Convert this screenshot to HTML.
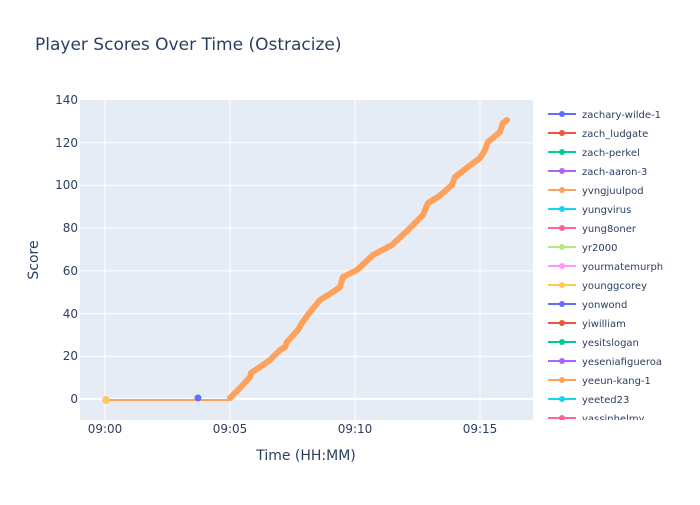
<!DOCTYPE html><html><head><meta charset="utf-8"><style>body{margin:0;background:#fff}svg{font-family:"DejaVu Sans","Liberation Sans",sans-serif}</style></head><body>
<svg width="700" height="500" viewBox="0 0 700 500">
<rect width="700" height="500" fill="#fff"/>
<text x="35" y="50" font-size="17" fill="#2a3f5f">Player Scores Over Time (Ostracize)</text>
<rect x="80" y="100" width="453" height="320" fill="#e5ecf6"/>
<g stroke="#fff" stroke-width="1">
<line x1="80" x2="533" y1="399" y2="399" stroke-width="2"/>
<line x1="80" x2="533" y1="356.3" y2="356.3"/><line x1="80" x2="533" y1="313.6" y2="313.6"/>
<line x1="80" x2="533" y1="270.9" y2="270.9"/><line x1="80" x2="533" y1="228.1" y2="228.1"/>
<line x1="80" x2="533" y1="185.4" y2="185.4"/><line x1="80" x2="533" y1="142.7" y2="142.7"/>
<line x1="105" x2="105" y1="100" y2="420"/><line x1="230" x2="230" y1="100" y2="420"/>
<line x1="355" x2="355" y1="100" y2="420"/><line x1="480" x2="480" y1="100" y2="420"/>
</g>
<g font-size="12" fill="#2a3f5f" text-anchor="end">
<text x="78" y="403">0</text><text x="78" y="360">20</text><text x="78" y="318">40</text><text x="78" y="275">60</text><text x="78" y="232">80</text><text x="78" y="189">100</text><text x="78" y="147">120</text><text x="78" y="104">140</text>
</g>
<g font-size="12" fill="#2a3f5f" text-anchor="middle">
<text x="105" y="433">09:00</text><text x="230" y="433">09:05</text><text x="355" y="433">09:10</text><text x="480" y="433">09:15</text>
</g>
<text x="306" y="460" font-size="14" fill="#2a3f5f" text-anchor="middle">Time (HH:MM)</text>
<text x="38" y="260" font-size="14" fill="#2a3f5f" text-anchor="middle" transform="rotate(-90 38 260)">Score</text>
<line x1="105" y1="400" x2="230" y2="400" stroke="#ffa15a" stroke-width="2"/>
<polyline fill="none" stroke="#ffa15a" stroke-width="6" stroke-linejoin="round" stroke-linecap="round" points="230,398 240,388 250,377 251,373 263,365 270,360 280,350 285,347 287,342 298,330 302,323 310,312 320,300 333,292 340,287 343,277 357,270 373,255 392,245 410,228 423,215 428,203 438,197 452,185 455,177 468,167 480,158 485,150 488,142 500,132 503,123 507,120"/>
<circle cx="106" cy="400" r="3.5" fill="#fecb52" stroke="#ffa15a" stroke-width="0.5"/>
<circle cx="198" cy="398" r="3.5" fill="#636efa"/>
<svg x="540" y="100" width="160" height="320">
<g font-size="10" fill="#2a3f5f">
<g transform="translate(0,14)"><line x1="8" x2="36" stroke="#636efa" stroke-width="2"/><circle cx="22" r="3" fill="#636efa"/><text x="42" y="4">zachary-wilde-1</text></g>
<g transform="translate(0,33)"><line x1="8" x2="36" stroke="#ef553b" stroke-width="2"/><circle cx="22" r="3" fill="#ef553b"/><text x="42" y="4">zach_ludgate</text></g>
<g transform="translate(0,52)"><line x1="8" x2="36" stroke="#00cc96" stroke-width="2"/><circle cx="22" r="3" fill="#00cc96"/><text x="42" y="4">zach-perkel</text></g>
<g transform="translate(0,71)"><line x1="8" x2="36" stroke="#ab63fa" stroke-width="2"/><circle cx="22" r="3" fill="#ab63fa"/><text x="42" y="4">zach-aaron-3</text></g>
<g transform="translate(0,90)"><line x1="8" x2="36" stroke="#ffa15a" stroke-width="2"/><circle cx="22" r="3" fill="#ffa15a"/><text x="42" y="4">yvngjuulpod</text></g>
<g transform="translate(0,109)"><line x1="8" x2="36" stroke="#19d3f3" stroke-width="2"/><circle cx="22" r="3" fill="#19d3f3"/><text x="42" y="4">yungvirus</text></g>
<g transform="translate(0,128)"><line x1="8" x2="36" stroke="#ff6692" stroke-width="2"/><circle cx="22" r="3" fill="#ff6692"/><text x="42" y="4">yung8oner</text></g>
<g transform="translate(0,147)"><line x1="8" x2="36" stroke="#b6e880" stroke-width="2"/><circle cx="22" r="3" fill="#b6e880"/><text x="42" y="4">yr2000</text></g>
<g transform="translate(0,166)"><line x1="8" x2="36" stroke="#ff97ff" stroke-width="2"/><circle cx="22" r="3" fill="#ff97ff"/><text x="42" y="4">yourmatemurph</text></g>
<g transform="translate(0,185)"><line x1="8" x2="36" stroke="#fecb52" stroke-width="2"/><circle cx="22" r="3" fill="#fecb52"/><text x="42" y="4">younggcorey</text></g>
<g transform="translate(0,204)"><line x1="8" x2="36" stroke="#636efa" stroke-width="2"/><circle cx="22" r="3" fill="#636efa"/><text x="42" y="4">yonwond</text></g>
<g transform="translate(0,223)"><line x1="8" x2="36" stroke="#ef553b" stroke-width="2"/><circle cx="22" r="3" fill="#ef553b"/><text x="42" y="4">yiwilliam</text></g>
<g transform="translate(0,242)"><line x1="8" x2="36" stroke="#00cc96" stroke-width="2"/><circle cx="22" r="3" fill="#00cc96"/><text x="42" y="4">yesitslogan</text></g>
<g transform="translate(0,261)"><line x1="8" x2="36" stroke="#ab63fa" stroke-width="2"/><circle cx="22" r="3" fill="#ab63fa"/><text x="42" y="4">yeseniafigueroa</text></g>
<g transform="translate(0,280)"><line x1="8" x2="36" stroke="#ffa15a" stroke-width="2"/><circle cx="22" r="3" fill="#ffa15a"/><text x="42" y="4">yeeun-kang-1</text></g>
<g transform="translate(0,299)"><line x1="8" x2="36" stroke="#19d3f3" stroke-width="2"/><circle cx="22" r="3" fill="#19d3f3"/><text x="42" y="4">yeeted23</text></g>
<g transform="translate(0,318)"><line x1="8" x2="36" stroke="#ff6692" stroke-width="2"/><circle cx="22" r="3" fill="#ff6692"/><text x="42" y="4">yassinhelmy</text></g>
</g></svg>
</svg></body></html>
